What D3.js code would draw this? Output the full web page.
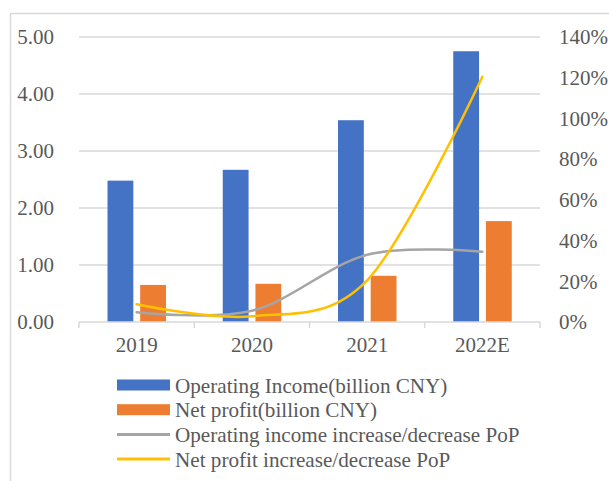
<!DOCTYPE html>
<html>
<head>
<meta charset="utf-8">
<script src="https://cdn.jsdelivr.net/npm/d3@7"></script>
<style>
  body { margin: 0; background: #fff; }
  svg { display: block; font-family: 'Liberation Serif', 'Times New Roman', serif; }
</style>
</head>
<body>
<svg width="609" height="481"></svg>
<script>
const years = ['2019', '2020', '2021', '2022E'];
const operatingIncome = [2.48, 2.67, 3.54, 4.75];
const netProfit = [0.65, 0.67, 0.81, 1.77];
const incomeGrowth = [4.8, 5.5, 33, 34.5];
const profitGrowth = [8.7, 2.8, 20.5, 120.5];
const leftTicks = [0, 1, 2, 3, 4, 5];
const rightTicks = [0, 20, 40, 60, 80, 100, 120, 140];

const series = [
  { name: 'Operating Income(billion CNY)', color: '#4472C4', type: 'bar' },
  { name: 'Net profit(billion CNY)', color: '#ED7D31', type: 'bar' },
  { name: 'Operating income increase/decrease PoP', color: '#A5A5A5', type: 'line' },
  { name: 'Net profit increase/decrease PoP', color: '#FFC000', type: 'line' }
];

const svg = d3.select('svg');
const plot = { left: 79, right: 540, top: 37, bottom: 322 };
const textColor = '#595959';
const gridColor = '#d9d9d9';

// chart frame (only top and left edge fall inside the picture)
svg.append('path')
  .attr('d', 'M10.5,481 V13.5 H609')
  .attr('fill', 'none')
  .attr('stroke', gridColor)
  .attr('stroke-width', 1.5);

const x = d3.scaleBand().domain(years).range([plot.left, plot.right]);
const x1 = d3.scaleBand().domain([0, 1]).range([28.5, 87]).paddingInner(0.21);
const yLeft = d3.scaleLinear().domain([0, 5]).range([plot.bottom, plot.top]);
const yRight = d3.scaleLinear().domain([0, 140]).range([plot.bottom, plot.top]);

// gridlines
svg.append('g')
  .selectAll('line')
  .data(leftTicks.slice(1))
  .join('line')
  .attr('x1', plot.left)
  .attr('x2', plot.right)
  .attr('y1', d => yLeft(d))
  .attr('y2', d => yLeft(d))
  .attr('stroke', gridColor)
  .attr('stroke-width', 1.5);

// left axis labels
svg.append('g')
  .selectAll('text')
  .data(leftTicks)
  .join('text')
  .attr('x', 54)
  .attr('y', d => yLeft(d))
  .attr('dy', '0.35em')
  .attr('text-anchor', 'end')
  .attr('font-size', 21)
  .attr('fill', textColor)
  .text(d => d.toFixed(2));

// right axis labels
svg.append('g')
  .selectAll('text')
  .data(rightTicks)
  .join('text')
  .attr('x', 559)
  .attr('y', d => yRight(d))
  .attr('dy', '0.35em')
  .attr('font-size', 21)
  .attr('fill', textColor)
  .text(d => d + '%');

// bars
const barData = [operatingIncome, netProfit];
barData.forEach((vals, i) => {
  svg.append('g')
    .selectAll('rect')
    .data(vals)
    .join('rect')
    .attr('x', (d, j) => x(years[j]) + x1(i))
    .attr('width', x1.bandwidth())
    .attr('y', d => yLeft(d))
    .attr('height', d => yLeft(0) - yLeft(d))
    .attr('fill', series[i].color);
});

// x axis
const xAxis = svg.append('g').attr('transform', `translate(0,${plot.bottom})`);
xAxis.append('line')
  .attr('x1', plot.left).attr('x2', plot.right)
  .attr('stroke', gridColor).attr('stroke-width', 1.5);
xAxis.selectAll('.tick')
  .data(years.map(d => x(d)).concat([plot.right]))
  .join('line')
  .attr('x1', d => d).attr('x2', d => d)
  .attr('y1', 0).attr('y2', 6)
  .attr('stroke', gridColor).attr('stroke-width', 1.5);
xAxis.selectAll('text')
  .data(years)
  .join('text')
  .attr('x', d => x(d) + x.bandwidth() / 2)
  .attr('y', 30)
  .attr('text-anchor', 'middle')
  .attr('font-size', 21)
  .attr('fill', textColor)
  .text(d => d);

// growth lines
const line = d3.line()
  .x((d, j) => x(years[j]) + x.bandwidth() / 2)
  .y(d => yRight(d))
  .curve(d3.curveCardinal.tension(0));

[incomeGrowth, profitGrowth].forEach((vals, i) => {
  svg.append('path')
    .datum(vals)
    .attr('d', line)
    .attr('fill', 'none')
    .attr('stroke', series[i + 2].color)
    .attr('stroke-width', 2.5)
    .attr('stroke-linecap', 'round');
});

// legend
const legend = svg.append('g').attr('transform', 'translate(117,385)');
const item = legend.selectAll('g')
  .data(series)
  .join('g')
  .attr('transform', (d, i) => `translate(0,${i * 24.7})`);
item.filter(d => d.type === 'bar')
  .append('rect')
  .attr('x', 0).attr('y', -5.5)
  .attr('width', 53).attr('height', 11)
  .attr('fill', d => d.color);
item.filter(d => d.type === 'line')
  .append('line')
  .attr('x1', 0).attr('x2', 53)
  .attr('stroke', d => d.color)
  .attr('stroke-width', 3);
const labels = item.append('text')
  .attr('x', 58)
  .attr('dy', '0.35em')
  .attr('font-size', 22)
  .attr('fill', textColor)
  .text(d => d.name);

// the reference face is a little narrower than Liberation Serif: squeeze to fit
const lens = labels.nodes().map(n => n.getComputedTextLength());
const squeeze = (271 + 346) / (lens[0] + lens[2]);
labels
  .attr('textLength', (d, i) => lens[i] * squeeze)
  .attr('lengthAdjust', 'spacingAndGlyphs');
</script>
</body>
</html>
